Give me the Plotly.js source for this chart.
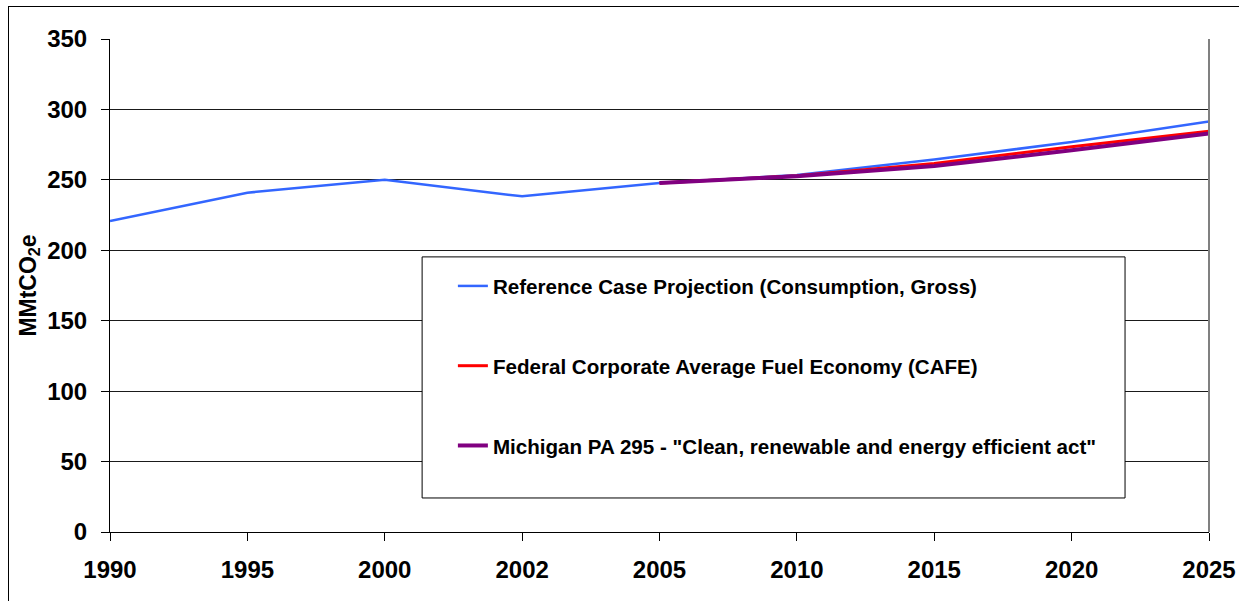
<!DOCTYPE html>
<html>
<head>
<meta charset="utf-8">
<script src="https://cdn.plot.ly/plotly-3.0.1.min.js"></script>
<style>
html,body{margin:0;padding:0;background:#fff;overflow:hidden;width:1239px;height:601px;}
#frame{position:absolute;left:8px;top:6px;width:1300px;height:650px;border:1px solid #000;}
#chart{width:1300px;height:650px;}
</style>
</head>
<body>
<div id="frame"><div id="chart"></div></div>
<script>
const years = ['1990','1995','2000','2002','2005','2010','2015','2020','2025'];
const refCase = [220.8, 240.9, 250, 238.3, 247.7, 253.5, 264.5, 276.8, 291.5];
const cafeYears = ['2005','2010','2015','2020','2025'];
const cafe = [247.7, 253.0, 261.7, 273.5, 284.5];
const pa295Years = ['2005','2010','2015','2020','2025'];
const pa295 = [247.7, 252.6, 259.8, 271.0, 283.0];
const names = ['Reference Case Projection (Consumption, Gross)',
               'Federal Corporate Average Fuel Economy (CAFE)',
               'Michigan PA 295 - "Clean, renewable and energy efficient act"'];

const traces = [
  {x: years, y: refCase, type:'scatter', mode:'lines', name:names[0], legendgroup:'a',
   line:{color:'#3366FF', width:2.5}},
  {x: cafeYears, y: cafe, type:'scatter', mode:'lines', name:names[1], legendgroup:'b',
   line:{color:'#FF0000', width:3}},
  {x: pa295Years, y: pa295, type:'scatter', mode:'lines', name:names[2], legendgroup:'c',
   line:{color:'#800080', width:4}}
];

const tickFont = {family:'Liberation Sans, Arial, sans-serif', size:24, color:'#000', weight:'bold'};

const layout = {
  width:1300, height:650,
  margin:{l:101, r:100, t:32, b:125, pad:0},
  paper_bgcolor:'#fff', plot_bgcolor:'#fff',
  showlegend:true,
  legend:{x:0.312, y:0.5395, xanchor:'left', yanchor:'top', bgcolor:'rgba(0,0,0,0)', borderwidth:0,
          traceorder:'grouped', tracegroupgap:50,
          font:{family:'Liberation Sans, Arial, sans-serif', size:20.6, color:'#000', weight:'bold'}},
  xaxis:{type:'category', categoryorder:'array', categoryarray:years, range:[0,8],
         showgrid:false, showline:true, linecolor:'#000', linewidth:1,
         ticks:'outside', ticklen:8, tickcolor:'#000', tickwidth:1,
         tickfont:tickFont, ticklabelstandoff:8, zeroline:false, fixedrange:true},
  yaxis:{range:[0,350], tickvals:[0,50,100,150,200,250,300,350],
         showgrid:true, gridcolor:'#1a1a1a', gridwidth:1,
         showline:true, linecolor:'#000', linewidth:1,
         ticks:'outside', ticklen:8, tickcolor:'#000', tickwidth:1,
         tickfont:tickFont, ticklabelstandoff:9, zeroline:false,
         title:{text:'<b>MMtCO<sub>2</sub>e</b>', standoff:4,
                font:{family:'Liberation Sans, Arial, sans-serif', size:23, color:'#000'}}},
  shapes:[
    {type:'rect', xref:'paper', yref:'paper', x0:0.284, x1:0.9236, y0:0.069, y1:0.558,
     line:{color:'#000', width:1}, fillcolor:'#fff', layer:'above'},
    {type:'line', xref:'paper', yref:'paper', x0:1, x1:1, y0:0, y1:1,
     line:{color:'#808080', width:2}}
  ]
};

Plotly.newPlot('chart', traces, layout, {displayModeBar:false, staticPlot:true});
</script>
</body>
</html>
